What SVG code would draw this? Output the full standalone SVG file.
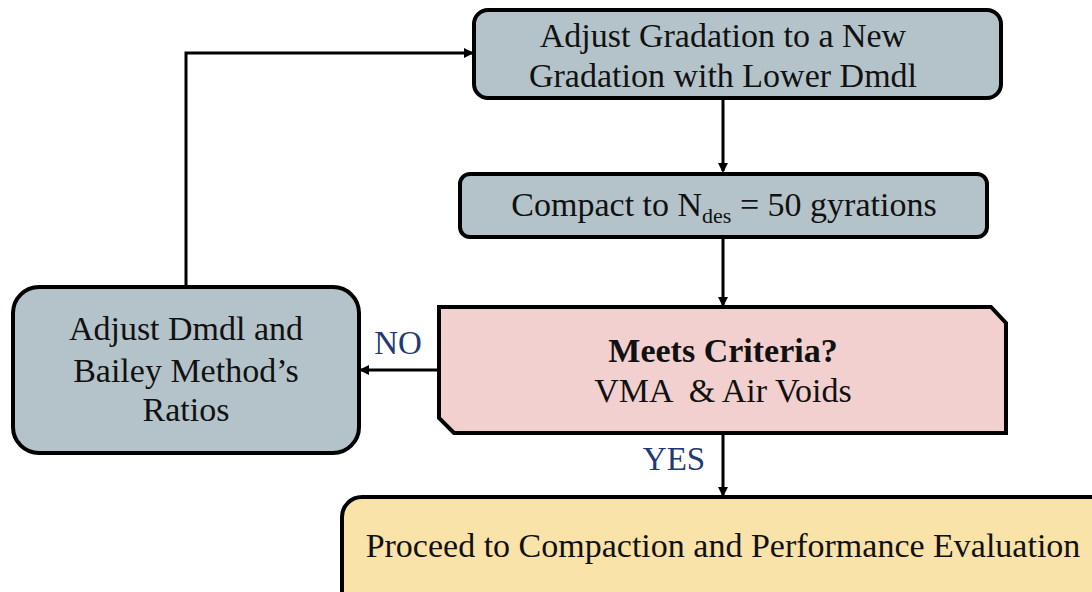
<svg xmlns="http://www.w3.org/2000/svg" width="1092" height="592" viewBox="0 0 1092 592">
<style>
.box{stroke:#000;stroke-width:4}
.grey{fill:#b4c3ca}
.t{font-family:"Liberation Serif","Times New Roman",serif;font-size:34px;fill:#111;text-anchor:middle}
.lbl{font-family:"Liberation Serif","Times New Roman",serif;font-size:33px;fill:#1f3a75;text-anchor:middle}
.c{stroke:#000;stroke-width:3;fill:none}
</style>
<defs>
<marker id="ah" markerWidth="10" markerHeight="10" refX="8" refY="5" orient="auto" markerUnits="userSpaceOnUse">
<path d="M0,0 L10,5 L0,10 z" fill="#000"/>
</marker>
</defs>
<rect width="1092" height="592" fill="#fff"/>
<g id="connectors">
<path class="c" d="M723,98 V171" marker-end="url(#ah)"/>
<path class="c" d="M723,237 V305" marker-end="url(#ah)"/>
<path class="c" d="M723,433 V495" marker-end="url(#ah)"/>
<path class="c" d="M439,370 H361" marker-end="url(#ah)"/>
<path class="c" d="M186,287 V53 H472" marker-end="url(#ah)"/>
<text class="lbl" x="398" y="354">NO</text>
<text class="lbl" x="674" y="470">YES</text>
</g>
<g id="node-adjust-gradation">
<rect class="box grey" x="474" y="10" width="527" height="88" rx="14"/>
<text class="t" x="723" y="47">Adjust Gradation to a New</text>
<text class="t" x="723" y="87">Gradation with Lower Dmdl</text>
</g>
<g id="node-compact">
<rect class="box grey" x="460" y="174" width="527" height="63" rx="10"/>
<text class="t" x="724" y="216">Compact to N<tspan font-size="22" dy="7">des</tspan><tspan dy="-7"> = 50 gyrations</tspan></text>
</g>
<g id="node-decision">
<path class="box" fill="#f2d0d0" d="M439,307 H991 L1006,323 V433 H454 L439,418 Z"/>
<text class="t" x="723" y="362" font-weight="bold">Meets Criteria?</text>
<text class="t" x="723" y="402" xml:space="preserve">VMA  &amp; Air Voids</text>
</g>
<g id="node-adjust-dmdl">
<rect class="box grey" x="13" y="287" width="346" height="166" rx="26"/>
<text class="t" x="186" y="340">Adjust Dmdl and</text>
<text class="t" x="186" y="382">Bailey Method’s</text>
<text class="t" x="186" y="421">Ratios</text>
</g>
<g id="node-proceed">
<rect class="box" fill="#fae3a9" x="342" y="497" width="770" height="120" rx="20"/>
<text class="t" x="723" y="557">Proceed to Compaction and Performance Evaluation</text>
</g>
</svg>
